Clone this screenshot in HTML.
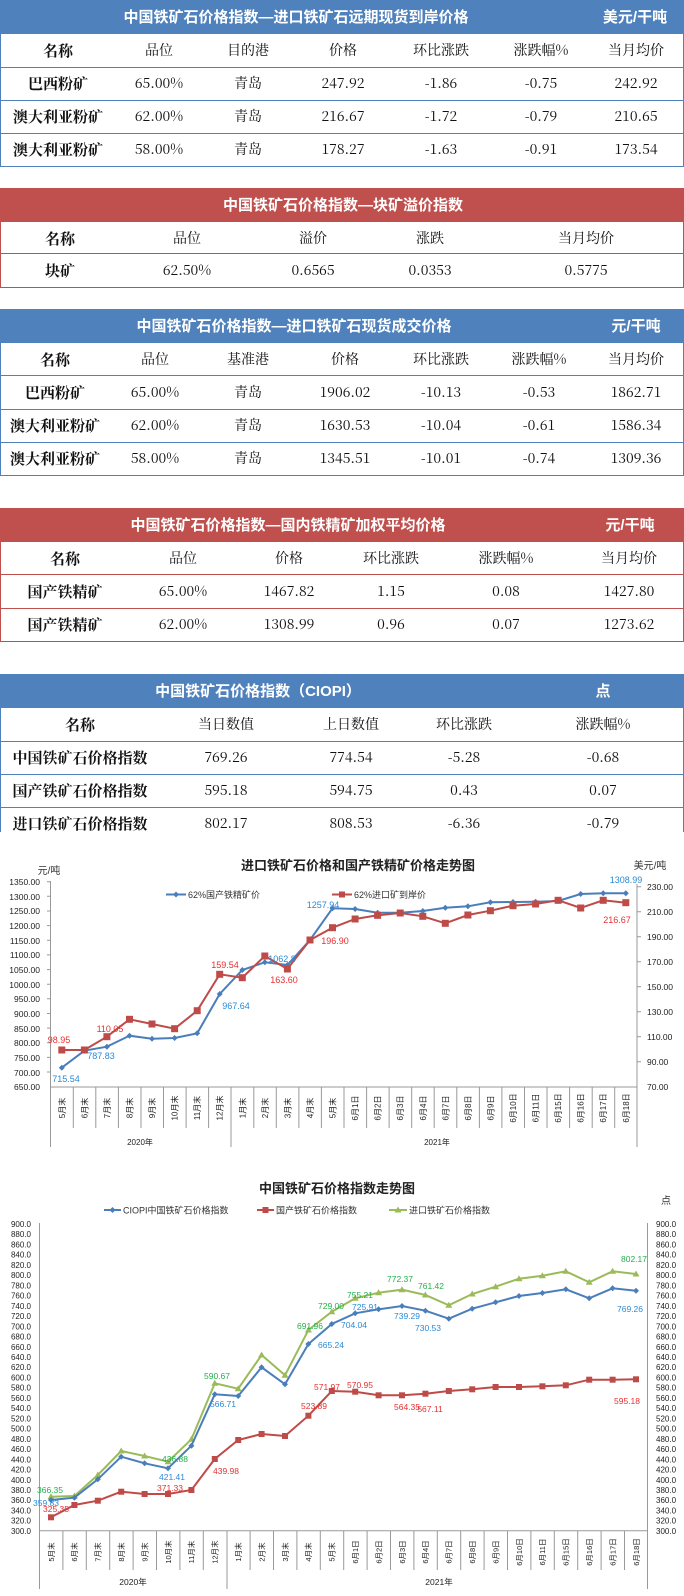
<!DOCTYPE html>
<html><head><meta charset="utf-8"><style>
body{margin:0;width:684px;height:1596px;position:relative;background:#fff;overflow:hidden;font-family:"Liberation Serif","Noto Serif CJK SC",serif;}
.t{position:absolute;left:0;width:682px;}
.hd{position:absolute;left:0;width:684px;height:34px;color:#fff;font-family:"Liberation Sans","Noto Sans CJK SC",sans-serif;font-weight:bold;font-size:15px;}
.hd span{position:absolute;top:9px;line-height:18px;transform:translateX(-50%);white-space:nowrap;}
.r{position:absolute;left:0;width:682px;height:33px;border:1px solid;border-top:none;}
.r span{position:absolute;top:8px;line-height:17px;height:17px;transform:translateX(-50%);white-space:nowrap;font-size:14px;color:#111;font-family:"Noto Serif CJK SC","Liberation Serif",serif;}
.r span.b{font-weight:bold;font-size:15px;}
.blue .hd{background:#4f81bd}.blue .r{border-color:#4f81bd}
.red .hd{background:#c0504d}.red .r{border-color:#c0504d}
svg{position:absolute;left:0;top:0}
svg text{font-family:"Liberation Sans","Noto Sans CJK SC",sans-serif;}
</style></head><body>

<div class="t blue" style="top:0">
<div class="hd" style="top:0"><span style="left:296px">中国铁矿石价格指数—进口铁矿石远期现货到岸价格</span><span style="left:635px">美元/干吨</span></div>
<div class="r" style="top:34px"><span class="b" style="left:57px">名称</span><span style="left:158px">品位</span><span style="left:247px">目的港</span><span style="left:342px">价格</span><span style="left:440px">环比涨跌</span><span style="left:540px">涨跌幅%</span><span style="left:635px">当月均价</span></div>
<div class="r" style="top:67px"><span class="b" style="left:57px">巴西粉矿</span><span style="left:158px">65.00%</span><span style="left:247px">青岛</span><span style="left:342px">247.92</span><span style="left:440px">-1.86</span><span style="left:540px">-0.75</span><span style="left:635px">242.92</span></div>
<div class="r" style="top:100px"><span class="b" style="left:57px">澳大利亚粉矿</span><span style="left:158px">62.00%</span><span style="left:247px">青岛</span><span style="left:342px">216.67</span><span style="left:440px">-1.72</span><span style="left:540px">-0.79</span><span style="left:635px">210.65</span></div>
<div class="r" style="top:133px"><span class="b" style="left:57px">澳大利亚粉矿</span><span style="left:158px">58.00%</span><span style="left:247px">青岛</span><span style="left:342px">178.27</span><span style="left:440px">-1.63</span><span style="left:540px">-0.91</span><span style="left:635px">173.54</span></div>
</div>

<div class="t red">
<div class="hd" style="top:188px"><span style="left:343px">中国铁矿石价格指数—块矿溢价指数</span></div>
<div class="r" style="top:222px;height:31px"><span class="b" style="left:59px">名称</span><span style="left:186px">品位</span><span style="left:312px">溢价</span><span style="left:429px">涨跌</span><span style="left:585px">当月均价</span></div>
<div class="r" style="top:254px;height:33px"><span class="b" style="left:59px">块矿</span><span style="left:186px">62.50%</span><span style="left:312px">0.6565</span><span style="left:429px">0.0353</span><span style="left:585px">0.5775</span></div>
</div>

<div class="t blue">
<div class="hd" style="top:309px"><span style="left:294px">中国铁矿石价格指数—进口铁矿石现货成交价格</span><span style="left:636px">元/干吨</span></div>
<div class="r" style="top:343px;height:32px"><span class="b" style="left:54px">名称</span><span style="left:154px">品位</span><span style="left:247px">基准港</span><span style="left:344px">价格</span><span style="left:440px">环比涨跌</span><span style="left:538px">涨跌幅%</span><span style="left:635px">当月均价</span></div>
<div class="r" style="top:376px"><span class="b" style="left:54px">巴西粉矿</span><span style="left:154px">65.00%</span><span style="left:247px">青岛</span><span style="left:344px">1906.02</span><span style="left:440px">-10.13</span><span style="left:538px">-0.53</span><span style="left:635px">1862.71</span></div>
<div class="r" style="top:409px"><span class="b" style="left:54px">澳大利亚粉矿</span><span style="left:154px">62.00%</span><span style="left:247px">青岛</span><span style="left:344px">1630.53</span><span style="left:440px">-10.04</span><span style="left:538px">-0.61</span><span style="left:635px">1586.34</span></div>
<div class="r" style="top:442px"><span class="b" style="left:54px">澳大利亚粉矿</span><span style="left:154px">58.00%</span><span style="left:247px">青岛</span><span style="left:344px">1345.51</span><span style="left:440px">-10.01</span><span style="left:538px">-0.74</span><span style="left:635px">1309.36</span></div>
</div>

<div class="t red">
<div class="hd" style="top:508px"><span style="left:288px">中国铁矿石价格指数—国内铁精矿加权平均价格</span><span style="left:630px">元/干吨</span></div>
<div class="r" style="top:542px;height:32px"><span class="b" style="left:64px">名称</span><span style="left:182px">品位</span><span style="left:288px">价格</span><span style="left:390px">环比涨跌</span><span style="left:505px">涨跌幅%</span><span style="left:628px">当月均价</span></div>
<div class="r" style="top:575px"><span class="b" style="left:64px">国产铁精矿</span><span style="left:182px">65.00%</span><span style="left:288px">1467.82</span><span style="left:390px">1.15</span><span style="left:505px">0.08</span><span style="left:628px">1427.80</span></div>
<div class="r" style="top:608px"><span class="b" style="left:64px">国产铁精矿</span><span style="left:182px">62.00%</span><span style="left:288px">1308.99</span><span style="left:390px">0.96</span><span style="left:505px">0.07</span><span style="left:628px">1273.62</span></div>
</div>

<div class="t blue">
<div class="hd" style="top:674px"><span style="left:258px">中国铁矿石价格指数（CIOPI）</span><span style="left:603px">点</span></div>
<div class="r" style="top:708px"><span class="b" style="left:79px">名称</span><span style="left:225px">当日数值</span><span style="left:350px">上日数值</span><span style="left:463px">环比涨跌</span><span style="left:602px">涨跌幅%</span></div>
<div class="r" style="top:741px"><span class="b" style="left:79px">中国铁矿石价格指数</span><span style="left:225px">769.26</span><span style="left:350px">774.54</span><span style="left:463px">-5.28</span><span style="left:602px">-0.68</span></div>
<div class="r" style="top:774px"><span class="b" style="left:79px">国产铁矿石价格指数</span><span style="left:225px">595.18</span><span style="left:350px">594.75</span><span style="left:463px">0.43</span><span style="left:602px">0.07</span></div>
<div class="r" style="top:807px;height:25px;border-bottom:none"><span class="b" style="left:79px">进口铁矿石价格指数</span><span style="left:225px">802.17</span><span style="left:350px">808.53</span><span style="left:463px">-6.36</span><span style="left:602px">-0.79</span></div>
</div>

<svg width="684" height="1596" viewBox="0 0 684 1596">
<rect x="0" y="836" width="684" height="760" fill="#fff"/>
<!-- Chart 1 -->
<text x="358" y="870" font-size="13" font-weight="bold" text-anchor="middle" fill="#222">进口铁矿石价格和国产铁精矿价格走势图</text>
<text x="49" y="874" font-size="10" text-anchor="middle" fill="#333">元/吨</text>
<text x="650" y="869" font-size="10" text-anchor="middle" fill="#333">美元/吨</text>
<line x1="166" y1="894.5" x2="186" y2="894.5" stroke="#4a7ebb" stroke-width="2"/><path d="M176 891.5l3 3-3 3-3-3z" fill="#4a7ebb"/>
<text x="188" y="898" font-size="9" fill="#333">62%国产铁精矿价</text>
<line x1="332" y1="894.5" x2="352" y2="894.5" stroke="#be4b48" stroke-width="2"/><rect x="339" y="891.5" width="6" height="6" fill="#be4b48"/>
<text x="354" y="898" font-size="9" fill="#333">62%进口矿到岸价</text>
<g font-size="8.5" fill="#222" text-anchor="end">
<text x="40" y="885">1350.00</text><text x="40" y="900">1300.00</text><text x="40" y="914">1250.00</text><text x="40" y="929">1200.00</text><text x="40" y="944">1150.00</text><text x="40" y="958">1100.00</text><text x="40" y="973">1050.00</text><text x="40" y="988">1000.00</text><text x="40" y="1002">950.00</text><text x="40" y="1017">900.00</text><text x="40" y="1032">850.00</text><text x="40" y="1046">800.00</text><text x="40" y="1061">750.00</text><text x="40" y="1076">700.00</text><text x="40" y="1090">650.00</text>
</g>
<g font-size="8.5" fill="#222">
<text x="647" y="890">230.00</text><text x="647" y="915">210.00</text><text x="647" y="940">190.00</text><text x="647" y="965">170.00</text><text x="647" y="990">150.00</text><text x="647" y="1015">130.00</text><text x="647" y="1040">110.00</text><text x="647" y="1065">90.00</text><text x="647" y="1090">70.00</text>
</g>
<g stroke="#999" stroke-width="1" fill="none">
<line x1="50.5" y1="881" x2="50.5" y2="1147"/><line x1="637" y1="884" x2="637" y2="1147"/>
<line x1="50.5" y1="1087" x2="637" y2="1087"/>
<line x1="231" y1="1087" x2="231" y2="1147"/>
<path d="M73.3 1087v41M95.8 1087v41M118.4 1087v41M141 1087v41M163.5 1087v41M186.1 1087v41M208.6 1087v41M253.8 1087v41M276.3 1087v41M298.9 1087v41M321.4 1087v41M344 1087v41M366.6 1087v41M389.1 1087v41M411.7 1087v41M434.2 1087v41M456.8 1087v41M479.4 1087v41M501.9 1087v41M524.5 1087v41M547 1087v41M569.6 1087v41M592.2 1087v41M614.7 1087v41"/>
<path d="M47 881.7h4M47 896.3h4M47 911h4M47 925.6h4M47 940.3h4M47 954.9h4M47 969.6h4M47 984.2h4M47 998.8h4M47 1013.5h4M47 1028.1h4M47 1042.8h4M47 1057.4h4M47 1072h4M637 886.7h4M637 911.7h4M637 936.7h4M637 961.7h4M637 986.7h4M637 1011.7h4M637 1036.7h4M637 1061.7h4"/>
</g>
<g font-size="8" fill="#222" text-anchor="middle">
<text transform="translate(64.8,1108) rotate(-90)">5月末</text><text transform="translate(87.4,1108) rotate(-90)">6月末</text><text transform="translate(109.9,1108) rotate(-90)">7月末</text><text transform="translate(132.5,1108) rotate(-90)">8月末</text><text transform="translate(155,1108) rotate(-90)">9月末</text><text transform="translate(177.6,1108) rotate(-90)">10月末</text><text transform="translate(200.2,1108) rotate(-90)">11月末</text><text transform="translate(222.7,1108) rotate(-90)">12月末</text><text transform="translate(245.3,1108) rotate(-90)">1月末</text><text transform="translate(267.8,1108) rotate(-90)">2月末</text><text transform="translate(290.4,1108) rotate(-90)">3月末</text><text transform="translate(313,1108) rotate(-90)">4月末</text><text transform="translate(335.5,1108) rotate(-90)">5月末</text><text transform="translate(358.1,1108) rotate(-90)">6月1日</text><text transform="translate(380.6,1108) rotate(-90)">6月2日</text><text transform="translate(403.2,1108) rotate(-90)">6月3日</text><text transform="translate(425.8,1108) rotate(-90)">6月4日</text><text transform="translate(448.3,1108) rotate(-90)">6月7日</text><text transform="translate(470.9,1108) rotate(-90)">6月8日</text><text transform="translate(493.4,1108) rotate(-90)">6月9日</text><text transform="translate(516,1108) rotate(-90)">6月10日</text><text transform="translate(538.6,1108) rotate(-90)">6月11日</text><text transform="translate(561.1,1108) rotate(-90)">6月15日</text><text transform="translate(583.7,1108) rotate(-90)">6月16日</text><text transform="translate(606.2,1108) rotate(-90)">6月17日</text><text transform="translate(628.8,1108) rotate(-90)">6月18日</text>
<text x="140" y="1145">2020年</text><text x="437" y="1145">2021年</text>
</g>
<polyline fill="none" stroke="#4a7ebb" stroke-width="2" points="61.8,1067.7 84.4,1050.7 106.9,1046.7 129.5,1035.7 152,1038.7 174.6,1038 197.2,1033.3 219.7,994 242.3,970 264.8,962.3 287.4,965 310,940 332.5,908.3 355.1,909 377.6,912.7 400.2,912.7 422.8,911 445.3,907.7 467.9,906.3 490.4,902.3 513,902 535.6,901.7 558.1,901 580.7,894 603.2,893.3 625.8,893.3"/>
<g fill="#4a7ebb"><path d="M61.8 1064.7l3 3-3 3-3-3zM84.4 1047.7l3 3-3 3-3-3zM106.9 1043.7l3 3-3 3-3-3zM129.5 1032.7l3 3-3 3-3-3zM152 1035.7l3 3-3 3-3-3zM174.6 1035l3 3-3 3-3-3zM197.2 1030.3l3 3-3 3-3-3zM219.7 991l3 3-3 3-3-3zM242.3 967l3 3-3 3-3-3zM264.8 959.3l3 3-3 3-3-3zM287.4 962l3 3-3 3-3-3zM310 937l3 3-3 3-3-3zM332.5 905.3l3 3-3 3-3-3zM355.1 906l3 3-3 3-3-3zM377.6 909.7l3 3-3 3-3-3zM400.2 909.7l3 3-3 3-3-3zM422.8 908l3 3-3 3-3-3zM445.3 904.7l3 3-3 3-3-3zM467.9 903.3l3 3-3 3-3-3zM490.4 899.3l3 3-3 3-3-3zM513 899l3 3-3 3-3-3zM535.6 898.7l3 3-3 3-3-3zM558.1 898l3 3-3 3-3-3zM580.7 891l3 3-3 3-3-3zM603.2 890.3l3 3-3 3-3-3zM625.8 890.3l3 3-3 3-3-3z"/></g>
<polyline fill="none" stroke="#be4b48" stroke-width="2" points="61.8,1050 84.4,1050 106.9,1036.7 129.5,1019.3 152,1024 174.6,1028.7 197.2,1010.7 219.7,974.3 242.3,977.7 264.8,956 287.4,969 310,940 332.5,927.7 355.1,919 377.6,915.3 400.2,913 422.8,916.3 445.3,923.3 467.9,915 490.4,910.7 513,905.7 535.6,904 558.1,900.3 580.7,908 603.2,900.3 625.8,902.7"/>
<g fill="#be4b48"><rect x="58.3" y="1046.5" width="7" height="7"/><rect x="80.9" y="1046.5" width="7" height="7"/><rect x="103.4" y="1033.2" width="7" height="7"/><rect x="126" y="1015.8" width="7" height="7"/><rect x="148.5" y="1020.5" width="7" height="7"/><rect x="171.1" y="1025.2" width="7" height="7"/><rect x="193.7" y="1007.2" width="7" height="7"/><rect x="216.2" y="970.8" width="7" height="7"/><rect x="238.8" y="974.2" width="7" height="7"/><rect x="261.3" y="952.5" width="7" height="7"/><rect x="283.9" y="965.5" width="7" height="7"/><rect x="306.5" y="936.5" width="7" height="7"/><rect x="329" y="924.2" width="7" height="7"/><rect x="351.6" y="915.5" width="7" height="7"/><rect x="374.1" y="911.8" width="7" height="7"/><rect x="396.7" y="909.5" width="7" height="7"/><rect x="419.3" y="912.8" width="7" height="7"/><rect x="441.8" y="919.8" width="7" height="7"/><rect x="464.4" y="911.5" width="7" height="7"/><rect x="486.9" y="907.2" width="7" height="7"/><rect x="509.5" y="902.2" width="7" height="7"/><rect x="532.1" y="900.5" width="7" height="7"/><rect x="554.6" y="896.8" width="7" height="7"/><rect x="577.2" y="904.5" width="7" height="7"/><rect x="599.7" y="896.8" width="7" height="7"/><rect x="622.3" y="899.2" width="7" height="7"/></g>
<g font-size="9" text-anchor="middle">
<text x="59" y="1043" fill="#e53030">98.95</text><text x="110" y="1032" fill="#e53030">110.05</text><text x="66" y="1082" fill="#2a8ad6">715.54</text><text x="101" y="1059" fill="#2a8ad6">787.83</text><text x="225" y="968" fill="#e53030">159.54</text><text x="236" y="1009" fill="#2a8ad6">967.64</text><text x="282" y="962" fill="#2a8ad6">1062.8</text><text x="284" y="983" fill="#e53030">163.60</text><text x="323" y="908" fill="#2a8ad6">1257.94</text><text x="335" y="944" fill="#e53030">196.90</text><text x="626" y="883" fill="#2a8ad6">1308.99</text><text x="617" y="923" fill="#e53030">216.67</text>
</g>

<!-- Chart 2 -->
<text x="337" y="1193" font-size="13" font-weight="bold" text-anchor="middle" fill="#222">中国铁矿石价格指数走势图</text>
<text x="666" y="1204" font-size="10" text-anchor="middle" fill="#333">点</text>
<line x1="104" y1="1210" x2="121" y2="1210" stroke="#4a7ebb" stroke-width="2"/><path d="M112.5 1207l3 3-3 3-3-3z" fill="#4a7ebb"/>
<text x="123" y="1213.5" font-size="9" fill="#333">CIOPI中国铁矿石价格指数</text>
<line x1="257" y1="1210" x2="274" y2="1210" stroke="#be4b48" stroke-width="2"/><rect x="262.5" y="1207" width="6" height="6" fill="#be4b48"/>
<text x="276" y="1213.5" font-size="9" fill="#333">国产铁矿石价格指数</text>
<line x1="389" y1="1210" x2="407" y2="1210" stroke="#9bbb59" stroke-width="2"/><path d="M398 1206.5l3.5 6h-7z" fill="#9bbb59"/>
<text x="409" y="1213.5" font-size="9" fill="#333">进口铁矿石价格指数</text>
<g font-size="8" fill="#222" text-anchor="end">
<text x="31" y="1227">900.0</text><text x="31" y="1237.2">880.0</text><text x="31" y="1247.5">860.0</text><text x="31" y="1257.7">840.0</text><text x="31" y="1267.9">820.0</text><text x="31" y="1278.2">800.0</text><text x="31" y="1288.4">780.0</text><text x="31" y="1298.6">760.0</text><text x="31" y="1308.8">740.0</text><text x="31" y="1319.1">720.0</text><text x="31" y="1329.3">700.0</text><text x="31" y="1339.5">680.0</text><text x="31" y="1349.8">660.0</text><text x="31" y="1360">640.0</text><text x="31" y="1370.2">620.0</text><text x="31" y="1380.5">600.0</text><text x="31" y="1390.7">580.0</text><text x="31" y="1400.9">560.0</text><text x="31" y="1411.1">540.0</text><text x="31" y="1421.4">520.0</text><text x="31" y="1431.6">500.0</text><text x="31" y="1441.8">480.0</text><text x="31" y="1452.1">460.0</text><text x="31" y="1462.3">440.0</text><text x="31" y="1472.5">420.0</text><text x="31" y="1482.8">400.0</text><text x="31" y="1493">380.0</text><text x="31" y="1503.2">360.0</text><text x="31" y="1513.5">340.0</text><text x="31" y="1523.7">320.0</text><text x="31" y="1534">300.0</text>
</g>
<g font-size="8" fill="#222">
<text x="656" y="1227">900.0</text><text x="656" y="1237.2">880.0</text><text x="656" y="1247.5">860.0</text><text x="656" y="1257.7">840.0</text><text x="656" y="1267.9">820.0</text><text x="656" y="1278.2">800.0</text><text x="656" y="1288.4">780.0</text><text x="656" y="1298.6">760.0</text><text x="656" y="1308.8">740.0</text><text x="656" y="1319.1">720.0</text><text x="656" y="1329.3">700.0</text><text x="656" y="1339.5">680.0</text><text x="656" y="1349.8">660.0</text><text x="656" y="1360">640.0</text><text x="656" y="1370.2">620.0</text><text x="656" y="1380.5">600.0</text><text x="656" y="1390.7">580.0</text><text x="656" y="1400.9">560.0</text><text x="656" y="1411.1">540.0</text><text x="656" y="1421.4">520.0</text><text x="656" y="1431.6">500.0</text><text x="656" y="1441.8">480.0</text><text x="656" y="1452.1">460.0</text><text x="656" y="1462.3">440.0</text><text x="656" y="1472.5">420.0</text><text x="656" y="1482.8">400.0</text><text x="656" y="1493">380.0</text><text x="656" y="1503.2">360.0</text><text x="656" y="1513.5">340.0</text><text x="656" y="1523.7">320.0</text><text x="656" y="1534">300.0</text>
</g>
<g stroke="#999" stroke-width="1" fill="none">
<line x1="39.5" y1="1223" x2="39.5" y2="1589"/><line x1="647.5" y1="1223" x2="647.5" y2="1589"/>
<line x1="39.5" y1="1530.7" x2="647.5" y2="1530.7"/>
<line x1="227" y1="1530.7" x2="227" y2="1589"/>
<path d="M62.9 1531v39M86.3 1531v39M109.7 1531v39M133.1 1531v39M156.5 1531v39M179.9 1531v39M203.3 1531v39M250.1 1531v39M273.5 1531v39M296.9 1531v39M320.3 1531v39M343.7 1531v39M367.1 1531v39M390.5 1531v39M413.9 1531v39M437.3 1531v39M460.7 1531v39M484.1 1531v39M507.5 1531v39M530.9 1531v39M554.3 1531v39M577.7 1531v39M601.1 1531v39M624.5 1531v39"/>
</g>
<g font-size="7.5" fill="#222" text-anchor="middle">
<text transform="translate(53.8,1552) rotate(-90)">5月末</text><text transform="translate(77.2,1552) rotate(-90)">6月末</text><text transform="translate(100.6,1552) rotate(-90)">7月末</text><text transform="translate(124,1552) rotate(-90)">8月末</text><text transform="translate(147.4,1552) rotate(-90)">9月末</text><text transform="translate(170.8,1552) rotate(-90)">10月末</text><text transform="translate(194.2,1552) rotate(-90)">11月末</text><text transform="translate(217.6,1552) rotate(-90)">12月末</text><text transform="translate(241,1552) rotate(-90)">1月末</text><text transform="translate(264.4,1552) rotate(-90)">2月末</text><text transform="translate(287.8,1552) rotate(-90)">3月末</text><text transform="translate(311.2,1552) rotate(-90)">4月末</text><text transform="translate(334.6,1552) rotate(-90)">5月末</text><text transform="translate(358,1552) rotate(-90)">6月1日</text><text transform="translate(381.4,1552) rotate(-90)">6月2日</text><text transform="translate(404.8,1552) rotate(-90)">6月3日</text><text transform="translate(428.2,1552) rotate(-90)">6月4日</text><text transform="translate(451.6,1552) rotate(-90)">6月7日</text><text transform="translate(475,1552) rotate(-90)">6月8日</text><text transform="translate(498.4,1552) rotate(-90)">6月9日</text><text transform="translate(521.8,1552) rotate(-90)">6月10日</text><text transform="translate(545.2,1552) rotate(-90)">6月11日</text><text transform="translate(568.6,1552) rotate(-90)">6月15日</text><text transform="translate(592,1552) rotate(-90)">6月16日</text><text transform="translate(615.4,1552) rotate(-90)">6月17日</text><text transform="translate(638.8,1552) rotate(-90)">6月18日</text>
<text x="133" y="1585" font-size="8.5">2020年</text><text x="439" y="1585" font-size="8.5">2021年</text>
</g>
<polyline fill="none" stroke="#9bbb59" stroke-width="2" points="51,1496.7 74.4,1496 97.8,1475 121.2,1451 144.6,1456 168,1461.7 191.4,1439.3 214.8,1383.3 238.2,1388.7 261.6,1355 285,1375.3 308.4,1330 331.8,1311.7 355.2,1298.3 378.6,1292.7 402,1289.7 425.4,1295 448.8,1305.3 472.2,1294 495.6,1286.7 519,1278.7 542.4,1275.7 565.8,1271.3 589.2,1282.3 612.6,1271.3 636,1274"/>
<g fill="#9bbb59"><path d="M51 1493.2l3.5 6h-7zM74.4 1492.5l3.5 6h-7zM97.8 1471.5l3.5 6h-7zM121.2 1447.5l3.5 6h-7zM144.6 1452.5l3.5 6h-7zM168 1458.2l3.5 6h-7zM191.4 1435.8l3.5 6h-7zM214.8 1379.8l3.5 6h-7zM238.2 1385.2l3.5 6h-7zM261.6 1351.5l3.5 6h-7zM285 1371.8l3.5 6h-7zM308.4 1326.5l3.5 6h-7zM331.8 1308.2l3.5 6h-7zM355.2 1294.8l3.5 6h-7zM378.6 1289.2l3.5 6h-7zM402 1286.2l3.5 6h-7zM425.4 1291.5l3.5 6h-7zM448.8 1301.8l3.5 6h-7zM472.2 1290.5l3.5 6h-7zM495.6 1283.2l3.5 6h-7zM519 1275.2l3.5 6h-7zM542.4 1272.2l3.5 6h-7zM565.8 1267.8l3.5 6h-7zM589.2 1278.8l3.5 6h-7zM612.6 1267.8l3.5 6h-7zM636 1270.5l3.5 6h-7z"/></g>
<polyline fill="none" stroke="#4a7ebb" stroke-width="2" points="51,1500 74.4,1497.7 97.8,1479.3 121.2,1456.7 144.6,1463.3 168,1468.3 191.4,1445.7 214.8,1394.3 238.2,1396 261.6,1367.3 285,1384.3 308.4,1344 331.8,1324 355.2,1313.3 378.6,1309.3 402,1306 425.4,1310.7 448.8,1318.7 472.2,1308.7 495.6,1302.3 519,1296 542.4,1293 565.8,1289.3 589.2,1298.3 612.6,1288.3 636,1290.7"/>
<g fill="#4a7ebb"><path d="M51 1497l3 3-3 3-3-3zM74.4 1494.7l3 3-3 3-3-3zM97.8 1476.3l3 3-3 3-3-3zM121.2 1453.7l3 3-3 3-3-3zM144.6 1460.3l3 3-3 3-3-3zM168 1465.3l3 3-3 3-3-3zM191.4 1442.7l3 3-3 3-3-3zM214.8 1391.3l3 3-3 3-3-3zM238.2 1393l3 3-3 3-3-3zM261.6 1364.3l3 3-3 3-3-3zM285 1381.3l3 3-3 3-3-3zM308.4 1341l3 3-3 3-3-3zM331.8 1321l3 3-3 3-3-3zM355.2 1310.3l3 3-3 3-3-3zM378.6 1306.3l3 3-3 3-3-3zM402 1303l3 3-3 3-3-3zM425.4 1307.7l3 3-3 3-3-3zM448.8 1315.7l3 3-3 3-3-3zM472.2 1305.7l3 3-3 3-3-3zM495.6 1299.3l3 3-3 3-3-3zM519 1293l3 3-3 3-3-3zM542.4 1290l3 3-3 3-3-3zM565.8 1286.3l3 3-3 3-3-3zM589.2 1295.3l3 3-3 3-3-3zM612.6 1285.3l3 3-3 3-3-3zM636 1287.7l3 3-3 3-3-3z"/></g>
<polyline fill="none" stroke="#be4b48" stroke-width="2" points="51,1517.3 74.4,1505 97.8,1500.7 121.2,1491.7 144.6,1494 168,1494 191.4,1490 214.8,1459 238.2,1440 261.6,1434 285,1436 308.4,1415.7 331.8,1391 355.2,1391.7 378.6,1395.3 402,1395.3 425.4,1393.7 448.8,1391 472.2,1389.3 495.6,1387 519,1387 542.4,1386.3 565.8,1385.3 589.2,1379.7 612.6,1379.7 636,1379.3"/>
<g fill="#be4b48"><rect x="48" y="1514.3" width="6" height="6"/><rect x="71.4" y="1502" width="6" height="6"/><rect x="94.8" y="1497.7" width="6" height="6"/><rect x="118.2" y="1488.7" width="6" height="6"/><rect x="141.6" y="1491" width="6" height="6"/><rect x="165" y="1491" width="6" height="6"/><rect x="188.4" y="1487" width="6" height="6"/><rect x="211.8" y="1456" width="6" height="6"/><rect x="235.2" y="1437" width="6" height="6"/><rect x="258.6" y="1431" width="6" height="6"/><rect x="282" y="1433" width="6" height="6"/><rect x="305.4" y="1412.7" width="6" height="6"/><rect x="328.8" y="1388" width="6" height="6"/><rect x="352.2" y="1388.7" width="6" height="6"/><rect x="375.6" y="1392.3" width="6" height="6"/><rect x="399" y="1392.3" width="6" height="6"/><rect x="422.4" y="1390.7" width="6" height="6"/><rect x="445.8" y="1388" width="6" height="6"/><rect x="469.2" y="1386.3" width="6" height="6"/><rect x="492.6" y="1384" width="6" height="6"/><rect x="516" y="1384" width="6" height="6"/><rect x="539.4" y="1383.3" width="6" height="6"/><rect x="562.8" y="1382.3" width="6" height="6"/><rect x="586.2" y="1376.7" width="6" height="6"/><rect x="609.6" y="1376.7" width="6" height="6"/><rect x="633" y="1376.3" width="6" height="6"/></g>
<g font-size="8.5" text-anchor="middle">
<text x="50" y="1493" fill="#22b04a">366.35</text><text x="46" y="1506" fill="#2a8ad6">359.83</text><text x="56" y="1512" fill="#e53030">325.35</text>
<text x="175" y="1462" fill="#22b04a">436.88</text><text x="172" y="1480" fill="#2a8ad6">421.41</text><text x="170" y="1491" fill="#e53030">371.33</text>
<text x="217" y="1379" fill="#22b04a">590.67</text><text x="223" y="1407" fill="#2a8ad6">566.71</text><text x="226" y="1474" fill="#e53030">439.98</text>
<text x="310" y="1329" fill="#22b04a">691.96</text><text x="331" y="1348" fill="#2a8ad6">665.24</text><text x="314" y="1409" fill="#e53030">523.89</text>
<text x="331" y="1309" fill="#22b04a">729.00</text><text x="327" y="1390" fill="#e53030">571.97</text><text x="354" y="1328" fill="#2a8ad6">704.04</text><text x="360" y="1388" fill="#e53030">570.95</text>
<text x="360" y="1298" fill="#22b04a">755.21</text><text x="365" y="1310" fill="#2a8ad6">725.91</text><text x="400" y="1282" fill="#22b04a">772.37</text><text x="407" y="1319" fill="#2a8ad6">739.29</text>
<text x="431" y="1289" fill="#22b04a">761.42</text><text x="428" y="1331" fill="#2a8ad6">730.53</text><text x="407" y="1410" fill="#e53030">564.35</text><text x="430" y="1412" fill="#e53030">567.11</text>
<text x="634" y="1262" fill="#22b04a">802.17</text><text x="630" y="1312" fill="#2a8ad6">769.26</text><text x="627" y="1404" fill="#e53030">595.18</text>
</g>
</svg>
</body></html>
